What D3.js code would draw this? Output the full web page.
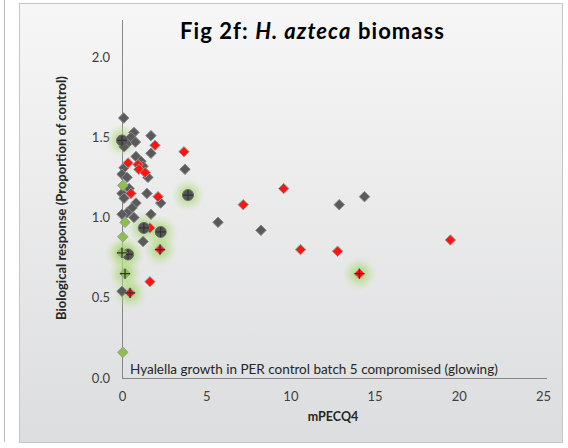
<!DOCTYPE html>
<html>
<head>
<meta charset="utf-8">
<script src="https://cdn.jsdelivr.net/npm/d3@7"></script>
<style>
  html, body { margin: 0; padding: 0; background: #ffffff; }
  svg { display: block; font-family: "Lato", "Open Sans", sans-serif; }
</style>
</head>
<body>
<svg id="chart" width="568" height="448"></svg>
<script>
// mPECQ4 (x) vs biological response, proportion of control (y)
const grayX = [0.1, 0.71, 0.53, 0.3, 0.12, 0.8, 1.72, 1.72, 0.83, 1.13, 1.25, 0.12, 0, 0.3, 0.42, 1.54, 3.74,
               0, 0.12, 0.83, 0.6, 1.48, 2.3, 0.3, 0.71, 0, 1.72, 1.25, 0, 5.7, 8.25, 12.9, 14.4];
const grayY = [1.62, 1.53, 1.50, 1.46, 1.44, 1.47, 1.51, 1.40, 1.38, 1.35, 1.32, 1.31, 1.27, 1.25, 1.18, 1.25, 1.30,
               1.15, 1.12, 1.09, 1.06, 1.15, 1.09, 1.03, 1.00, 1.02, 1.02, 0.85, 0.54, 0.97, 0.92, 1.08, 1.13];

const redX = [1.96, 3.68, 0.36, 0.95, 1.0, 1.37, 0.53, 2.14, 1.66, 1.66, 7.2, 9.6, 10.6, 12.8, 19.5];
const redY = [1.45, 1.41, 1.34, 1.33, 1.30, 1.28, 1.15, 1.13, 0.935, 0.60, 1.08, 1.18, 0.80, 0.79, 0.86];

const greenX = [0.05, 0.18, 0.05, 0.05];
const greenY = [1.20, 0.97, 0.88, 0.16];

// Batch 5 control-compromised samples, drawn with a glow and a cross
const glowX = [0, 3.92, 1.3, 2.3, 0.36, 0, 0.18, 2.26, 0.48, 14.1];
const glowY = [1.48, 1.14, 0.935, 0.91, 0.77, 0.78, 0.65, 0.80, 0.53, 0.65];
const glowKind = ["gray", "gray", "gray", "gray", "gray", "green", "green", "red", "red", "red"];

const yTicks = [0, 0.5, 1.0, 1.5, 2.0];
const xTicks = [0, 5, 10, 15, 20, 25];

const svg = d3.select("#chart");

const x = d3.scaleLinear().domain([0, 25]).range([122, 543]);
const y = d3.scaleLinear().domain([0, 2]).range([378, 57]);

// chart area background
const defs = svg.append("defs");
const bg = defs.append("linearGradient").attr("id", "bg").attr("x1", 0).attr("y1", 0).attr("x2", 0).attr("y2", 1);
bg.append("stop").attr("offset", "0%").attr("stop-color", "#f6f6f6");
bg.append("stop").attr("offset", "100%").attr("stop-color", "#dcddde");

const glow = defs.append("radialGradient").attr("id", "glow");
glow.append("stop").attr("offset", "0%").attr("stop-color", "#9bd45a").attr("stop-opacity", 0.8);
glow.append("stop").attr("offset", "45%").attr("stop-color", "#a8d870").attr("stop-opacity", 0.5);
glow.append("stop").attr("offset", "100%").attr("stop-color", "#c8e6a8").attr("stop-opacity", 0);

// neighbouring panel edge
svg.append("line").attr("x1", 4.5).attr("x2", 4.5).attr("y1", 0).attr("y2", 442)
  .attr("stroke", "#bdbdbd").attr("stroke-width", 1);

svg.append("rect").attr("x", 19.5).attr("y", 3.5).attr("width", 543).attr("height", 439)
  .attr("fill", "url(#bg)").attr("stroke", "#c6c6c6").attr("stroke-width", 1);

// axes
const yAxis = d3.axisLeft(y).tickValues(yTicks).tickFormat(d3.format(".1f")).tickSize(0).tickPadding(12);
const gy = svg.append("g").attr("transform", "translate(122,0)").call(yAxis);
gy.select(".domain").remove();
gy.selectAll("text").attr("font-size", 13).attr("fill", "#404040").attr("font-family", "Lato, sans-serif");

const xAxis = d3.axisBottom(x).tickValues(xTicks).tickFormat(d3.format("d")).tickSize(0).tickPadding(14);
const gx = svg.append("g").attr("transform", "translate(0,378)").call(xAxis);
gx.select(".domain").remove();
gx.selectAll("text").attr("font-size", 13).attr("fill", "#404040").attr("font-family", "Lato, sans-serif");

svg.append("line").attr("x1", 122.5).attr("x2", 122.5).attr("y1", 20).attr("y2", 378.5)
  .attr("stroke", "#878787").attr("stroke-width", 1);
svg.append("line").attr("x1", 122).attr("x2", 547).attr("y1", 378.5).attr("y2", 378.5)
  .attr("stroke", "#878787").attr("stroke-width", 1);

// titles
const title = svg.append("text").attr("x", 312).attr("y", 39).attr("text-anchor", "middle")
  .attr("font-size", 22).attr("font-weight", "bold").attr("fill", "#000")
  .attr("textLength", 264).attr("lengthAdjust", "spacing");
title.append("tspan").text("Fig 2f: ");
title.append("tspan").attr("font-style", "italic").text("H. azteca");
title.append("tspan").text(" biomass");

svg.append("text").attr("transform", "translate(66,198) rotate(-90)").attr("text-anchor", "middle")
  .attr("font-size", 13).attr("font-weight", "bold").attr("fill", "#262626")
  .text("Biological response (Proportion of control)");

svg.append("text").attr("x", 333).attr("y", 421).attr("text-anchor", "middle")
  .attr("font-size", 12.5).attr("font-weight", "bold").attr("fill", "#262626").text("mPECQ4");

svg.append("text").attr("x", 130).attr("y", 374).attr("font-size", 13.5).attr("fill", "#262626")
  .text("Hyalella growth in PER control batch 5 compromised (glowing)");

// markers
const diamond = d3.symbol().type(d3.symbolDiamond2).size(70);
const colors = {
  gray: { fill: "#5a5a5a", stroke: "#8a8a8a" },
  red: { fill: "#ff1414", stroke: "#a0a0a0" },
  green: { fill: "#8cc04a", stroke: "#9a9a9a" }
};

function drawDiamonds(xs, ys, kind) {
  svg.append("g").selectAll("path")
    .data(xs.map((v, i) => [v, ys[i]]))
    .join("path")
    .attr("d", diamond)
    .attr("transform", d => `translate(${x(d[0])},${y(d[1])})`)
    .attr("fill", colors[kind].fill)
    .attr("stroke", colors[kind].stroke)
    .attr("stroke-width", 1);
}

const glowData = glowX.map((v, i) => ({ x: v, y: glowY[i], kind: glowKind[i] }));

svg.append("g").selectAll("circle")
  .data(glowData)
  .join("circle")
  .attr("cx", d => x(d.x)).attr("cy", d => y(d.y)).attr("r", 17)
  .attr("fill", "url(#glow)");

drawDiamonds(grayX, grayY, "gray");
drawDiamonds(greenX, greenY, "green");
drawDiamonds(redX, redY, "red");

const gg = svg.append("g").selectAll("g")
  .data(glowData)
  .join("g")
  .attr("transform", d => `translate(${x(d.x)},${y(d.y)})`);

gg.filter(d => d.kind === "gray").append("circle").attr("r", 5.5)
  .attr("fill", "#555555").attr("stroke", "#6a6a6a");
gg.filter(d => d.kind !== "gray").append("path").attr("d", diamond)
  .attr("fill", d => colors[d.kind].fill).attr("stroke", d => colors[d.kind].stroke);
gg.append("path").attr("d", "M-5,0H5M0,-5V5")
  .attr("stroke", "#333333").attr("stroke-width", 1.2).attr("fill", "none");
</script>
</body>
</html>
